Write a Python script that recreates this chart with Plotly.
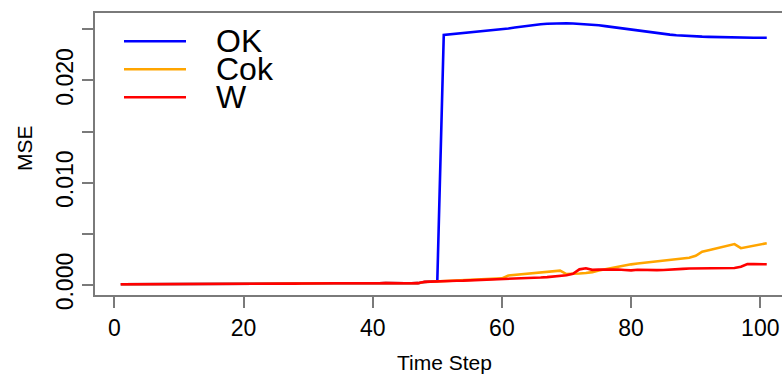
import plotly.graph_objects as go

# Time steps 1..101
time_step = list(range(1, 102))

# MSE per time step for each method
ok_mse = [
    0.00007, 0.00007, 0.00007, 0.00007, 0.00006, 0.00006, 0.00007, 0.00008, 0.00008, 0.00008,
    0.00008, 0.00008, 0.00009, 0.00009, 0.00010, 0.00010, 0.00010, 0.00010, 0.00010, 0.00010,
    0.00010, 0.00011, 0.00011, 0.00011, 0.00011, 0.00011, 0.00012, 0.00013, 0.00014, 0.00016,
    0.00016, 0.00016, 0.00017, 0.00017, 0.00017, 0.00016, 0.00016, 0.00017, 0.00017, 0.00017,
    0.00017, 0.00018, 0.00020, 0.00018, 0.00017, 0.00017, 0.00018, 0.00030, 0.00033, 0.00038,
    0.02444, 0.02450, 0.02456, 0.02462, 0.02468, 0.02474, 0.02480, 0.02487, 0.02493, 0.02500,
    0.02508, 0.02517, 0.02526, 0.02535, 0.02543, 0.02549, 0.02554, 0.02557, 0.02559, 0.02559,
    0.02557, 0.02554, 0.02550, 0.02545, 0.02539, 0.02531, 0.02522, 0.02513, 0.02504, 0.02495,
    0.02487, 0.02479, 0.02471, 0.02463, 0.02455, 0.02448, 0.02442, 0.02437, 0.02433, 0.02430,
    0.02428, 0.02426, 0.02424, 0.02422, 0.02421, 0.02420, 0.02419, 0.02418, 0.02418, 0.02417,
    0.02417,
]

cok_mse = [
    0.00007, 0.00007, 0.00007, 0.00007, 0.00006, 0.00006, 0.00007, 0.00008, 0.00008, 0.00008,
    0.00008, 0.00008, 0.00009, 0.00009, 0.00010, 0.00010, 0.00010, 0.00010, 0.00010, 0.00010,
    0.00010, 0.00011, 0.00011, 0.00011, 0.00011, 0.00011, 0.00012, 0.00013, 0.00014, 0.00016,
    0.00016, 0.00016, 0.00017, 0.00017, 0.00017, 0.00016, 0.00016, 0.00017, 0.00017, 0.00017,
    0.00017, 0.00018, 0.00020, 0.00018, 0.00017, 0.00017, 0.00018, 0.00030, 0.00033, 0.00038,
    0.00040, 0.00043, 0.00046, 0.00049, 0.00052, 0.00055, 0.00057, 0.00060, 0.00062, 0.00065,
    0.00093, 0.00098, 0.00103, 0.00108, 0.00113, 0.00118, 0.00123, 0.00128, 0.00140, 0.00107,
    0.00108, 0.00112, 0.00118, 0.00126, 0.00142, 0.00155, 0.00168, 0.00180, 0.00192, 0.00202,
    0.00210, 0.00217, 0.00224, 0.00231, 0.00238, 0.00245, 0.00252, 0.00259, 0.00267, 0.00285,
    0.00325, 0.00340, 0.00355, 0.00370, 0.00385, 0.00400, 0.00360, 0.00372, 0.00384, 0.00396,
    0.00408,
]

w_mse = [
    0.00007, 0.00007, 0.00007, 0.00007, 0.00006, 0.00006, 0.00007, 0.00008, 0.00008, 0.00008,
    0.00008, 0.00008, 0.00009, 0.00009, 0.00010, 0.00010, 0.00010, 0.00010, 0.00010, 0.00010,
    0.00010, 0.00011, 0.00011, 0.00011, 0.00011, 0.00011, 0.00012, 0.00013, 0.00014, 0.00016,
    0.00016, 0.00016, 0.00017, 0.00017, 0.00017, 0.00016, 0.00016, 0.00017, 0.00017, 0.00017,
    0.00017, 0.00018, 0.00020, 0.00018, 0.00017, 0.00017, 0.00018, 0.00031, 0.00034, 0.00039,
    0.00040, 0.00041, 0.00042, 0.00043, 0.00045, 0.00047, 0.00049, 0.00051, 0.00053, 0.00055,
    0.00057, 0.00059, 0.00062, 0.00065, 0.00069, 0.00073, 0.00077, 0.00082, 0.00088, 0.00095,
    0.00110, 0.00153, 0.00163, 0.00148, 0.00150, 0.00152, 0.00150, 0.00152, 0.00147, 0.00143,
    0.00149, 0.00146, 0.00145, 0.00145, 0.00146, 0.00148, 0.00152, 0.00158, 0.00162, 0.00163,
    0.00164, 0.00164, 0.00164, 0.00164, 0.00164, 0.00166, 0.00178, 0.00205, 0.00204, 0.00203,
    0.00203,
]

series_names = ["OK", "Cok", "W"]
series_values = [ok_mse, cok_mse, w_mse]
series_colors = ["#0000FF", "#FFA500", "#FF0000"]

x_ticks = [0, 20, 40, 60, 80, 100]
y_ticks = [0.0, 0.01, 0.02]
y_tick_text = ["0.000", "0.010", "0.020"]

FONT = "Liberation Sans, Arial, Helvetica, sans-serif"
W, H = 782, 376
L, T, B = 95, 13, 81  # plot area margins in px
plot_h = H - T - B

fig = go.Figure()
for name, vals, col in zip(series_names, series_values, series_colors):
    fig.add_trace(go.Scatter(
        x=time_step, y=vals, mode="lines", name=name,
        line=dict(color=col, width=2.6), showlegend=False,
    ))

axis_col = "#7a7a7a"
fig.update_layout(
    width=W, height=H,
    margin=dict(l=L, r=0, t=T, b=B),
    paper_bgcolor="white", plot_bgcolor="white",
    font=dict(family=FONT, color="black"),
    xaxis=dict(
        range=[-2.99, 103.36], tickvals=x_ticks, ticktext=[str(v) for v in x_ticks],
        ticks="outside", ticklen=11, tickwidth=1.5, tickcolor=axis_col,
        showline=True, linecolor=axis_col, linewidth=2, mirror=True,
        showgrid=False, zeroline=False, tickfont=dict(size=23, family=FONT),
    ),
    yaxis=dict(
        range=[-0.000978, 0.026594], tickvals=y_ticks, ticktext=y_tick_text,
        tickangle=-90,
        ticks="outside", ticklen=11, tickwidth=1.5, tickcolor=axis_col,
        minor=dict(dtick=0.005, tick0=0, ticks="outside", ticklen=11,
                   tickwidth=1.5, tickcolor=axis_col),
        showline=True, linecolor=axis_col, linewidth=2, mirror=False,
        showgrid=False, zeroline=False, tickfont=dict(size=23, family=FONT),
    ),
)

# Axis titles
fig.add_annotation(text="Time Step", xref="paper", yref="paper",
                   x=(444 - L) / (W - L), y=(H - B - 362) / plot_h,
                   xanchor="center", yanchor="middle", showarrow=False,
                   font=dict(size=21, family=FONT))
fig.add_annotation(text="MSE", xref="paper", yref="paper",
                   x=(24 - L) / (W - L), y=(H - B - 148) / plot_h,
                   xanchor="center", yanchor="middle", textangle=-90, showarrow=False,
                   font=dict(size=21, family=FONT))

# Legend: line samples with labels
legend_rows_px = [41.3, 69.3, 97.3]
for name, col, py in zip(series_names, series_colors, legend_rows_px):
    yp = (H - B - py) / plot_h
    fig.add_shape(type="line", xref="paper", yref="paper",
                  x0=(124 - L) / (W - L), x1=(186 - L) / (W - L), y0=yp, y1=yp,
                  line=dict(color=col, width=2.6))
    fig.add_annotation(text=name, xref="paper", yref="paper",
                       x=(214 - L) / (W - L), y=yp, xanchor="left", yanchor="middle",
                       showarrow=False, font=dict(size=32, family=FONT))

fig.write_html("out.html")
